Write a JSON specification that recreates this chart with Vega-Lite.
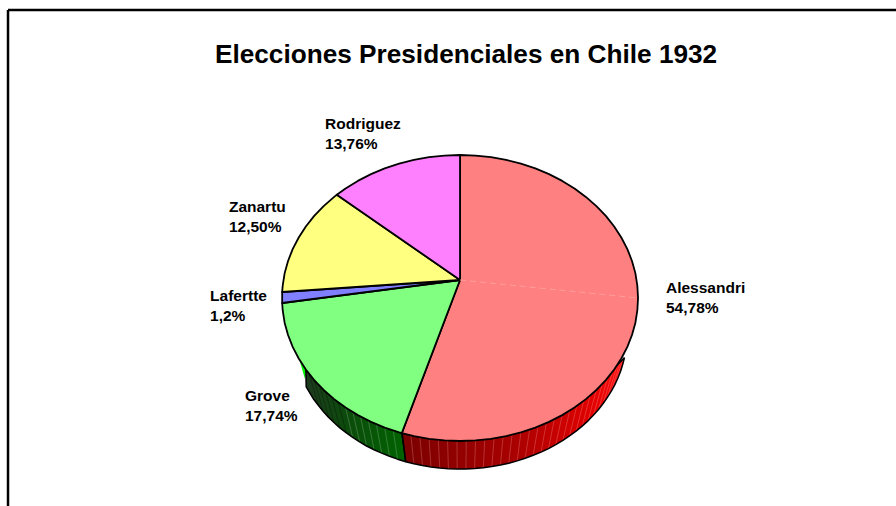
{
  "$schema": "https://vega.github.io/schema/vega-lite/v6.json",
  "description": "Elecciones Presidenciales en Chile 1932: torta en perspectiva con canto visible",
  "width": 896,
  "height": 506,
  "autosize": {"type": "none"},
  "padding": 0,
  "background": "#ffffff",
  "config": {"view": {"stroke": null}},
  "datasets": {
    "porciones": [
      {"candidato":"Alessandri","orden":0,"x":0,"y":0.126},{"candidato":"Alessandri","orden":1,"x":0,"y":1},{"candidato":"Alessandri","orden":2,"x":0.087,"y":0.996},{"candidato":"Alessandri","orden":3,"x":0.174,"y":0.985},{"candidato":"Alessandri","orden":4,"x":0.259,"y":0.966},{"candidato":"Alessandri","orden":5,"x":0.342,"y":0.94},{"candidato":"Alessandri","orden":6,"x":0.423,"y":0.906},{"candidato":"Alessandri","orden":7,"x":0.5,"y":0.866},{"candidato":"Alessandri","orden":8,"x":0.574,"y":0.819},{"candidato":"Alessandri","orden":9,"x":0.643,"y":0.766},{"candidato":"Alessandri","orden":10,"x":0.707,"y":0.707},{"candidato":"Alessandri","orden":11,"x":0.766,"y":0.643},{"candidato":"Alessandri","orden":12,"x":0.819,"y":0.574},{"candidato":"Alessandri","orden":13,"x":0.866,"y":0.5},{"candidato":"Alessandri","orden":14,"x":0.906,"y":0.423},{"candidato":"Alessandri","orden":15,"x":0.94,"y":0.342},{"candidato":"Alessandri","orden":16,"x":0.966,"y":0.259},{"candidato":"Alessandri","orden":17,"x":0.985,"y":0.174},{"candidato":"Alessandri","orden":18,"x":0.996,"y":0.087},{"candidato":"Alessandri","orden":19,"x":1,"y":0},{"candidato":"Alessandri","orden":20,"x":0.996,"y":-0.087},{"candidato":"Alessandri","orden":21,"x":0.985,"y":-0.174},{"candidato":"Alessandri","orden":22,"x":0.966,"y":-0.259},{"candidato":"Alessandri","orden":23,"x":0.94,"y":-0.342},{"candidato":"Alessandri","orden":24,"x":0.906,"y":-0.423},{"candidato":"Alessandri","orden":25,"x":0.866,"y":-0.5},{"candidato":"Alessandri","orden":26,"x":0.819,"y":-0.574},{"candidato":"Alessandri","orden":27,"x":0.766,"y":-0.643},{"candidato":"Alessandri","orden":28,"x":0.707,"y":-0.707},{"candidato":"Alessandri","orden":29,"x":0.643,"y":-0.766},{"candidato":"Alessandri","orden":30,"x":0.574,"y":-0.819},{"candidato":"Alessandri","orden":31,"x":0.5,"y":-0.866},{"candidato":"Alessandri","orden":32,"x":0.423,"y":-0.906},{"candidato":"Alessandri","orden":33,"x":0.342,"y":-0.94},{"candidato":"Alessandri","orden":34,"x":0.259,"y":-0.966},{"candidato":"Alessandri","orden":35,"x":0.174,"y":-0.985},{"candidato":"Alessandri","orden":36,"x":0.087,"y":-0.996},{"candidato":"Alessandri","orden":37,"x":0,"y":-1},{"candidato":"Alessandri","orden":38,"x":-0.087,"y":-0.996},{"candidato":"Alessandri","orden":39,"x":-0.174,"y":-0.985},{"candidato":"Alessandri","orden":40,"x":-0.259,"y":-0.966},{"candidato":"Alessandri","orden":41,"x":-0.327,"y":-0.945},{"candidato":"Alessandri","orden":42,"x":0,"y":0.126},
      {"candidato":"Grove","orden":0,"x":0,"y":0.126},{"candidato":"Grove","orden":1,"x":-0.327,"y":-0.945},{"candidato":"Grove","orden":2,"x":-0.342,"y":-0.94},{"candidato":"Grove","orden":3,"x":-0.423,"y":-0.906},{"candidato":"Grove","orden":4,"x":-0.5,"y":-0.866},{"candidato":"Grove","orden":5,"x":-0.574,"y":-0.819},{"candidato":"Grove","orden":6,"x":-0.643,"y":-0.766},{"candidato":"Grove","orden":7,"x":-0.707,"y":-0.707},{"candidato":"Grove","orden":8,"x":-0.766,"y":-0.643},{"candidato":"Grove","orden":9,"x":-0.819,"y":-0.574},{"candidato":"Grove","orden":10,"x":-0.866,"y":-0.5},{"candidato":"Grove","orden":11,"x":-0.906,"y":-0.423},{"candidato":"Grove","orden":12,"x":-0.94,"y":-0.342},{"candidato":"Grove","orden":13,"x":-0.966,"y":-0.259},{"candidato":"Grove","orden":14,"x":-0.985,"y":-0.174},{"candidato":"Grove","orden":15,"x":-0.996,"y":-0.087},{"candidato":"Grove","orden":16,"x":-0.999,"y":-0.035},{"candidato":"Grove","orden":17,"x":0,"y":0.126},
      {"candidato":"Lafertte","orden":0,"x":0,"y":0.126},{"candidato":"Lafertte","orden":1,"x":-0.999,"y":-0.035},{"candidato":"Lafertte","orden":2,"x":-0.999,"y":0.042},{"candidato":"Lafertte","orden":3,"x":0,"y":0.126},
      {"candidato":"Zanartu","orden":0,"x":0,"y":0.126},{"candidato":"Zanartu","orden":1,"x":-0.999,"y":0.042},{"candidato":"Zanartu","orden":2,"x":-0.996,"y":0.087},{"candidato":"Zanartu","orden":3,"x":-0.985,"y":0.174},{"candidato":"Zanartu","orden":4,"x":-0.966,"y":0.259},{"candidato":"Zanartu","orden":5,"x":-0.94,"y":0.342},{"candidato":"Zanartu","orden":6,"x":-0.906,"y":0.423},{"candidato":"Zanartu","orden":7,"x":-0.866,"y":0.5},{"candidato":"Zanartu","orden":8,"x":-0.819,"y":0.574},{"candidato":"Zanartu","orden":9,"x":-0.766,"y":0.643},{"candidato":"Zanartu","orden":10,"x":-0.707,"y":0.707},{"candidato":"Zanartu","orden":11,"x":-0.692,"y":0.722},{"candidato":"Zanartu","orden":12,"x":0,"y":0.126},
      {"candidato":"Rodriguez","orden":0,"x":0,"y":0.126},{"candidato":"Rodriguez","orden":1,"x":-0.692,"y":0.722},{"candidato":"Rodriguez","orden":2,"x":-0.643,"y":0.766},{"candidato":"Rodriguez","orden":3,"x":-0.574,"y":0.819},{"candidato":"Rodriguez","orden":4,"x":-0.5,"y":0.866},{"candidato":"Rodriguez","orden":5,"x":-0.423,"y":0.906},{"candidato":"Rodriguez","orden":6,"x":-0.342,"y":0.94},{"candidato":"Rodriguez","orden":7,"x":-0.259,"y":0.966},{"candidato":"Rodriguez","orden":8,"x":-0.174,"y":0.985},{"candidato":"Rodriguez","orden":9,"x":-0.087,"y":0.996},{"candidato":"Rodriguez","orden":10,"x":0,"y":1},{"candidato":"Rodriguez","orden":11,"x":0,"y":0.126}
    ],
    "canto": [
      {"pared":"roja","orden":0,"x":0.924,"y":-0.416},{"pared":"roja","orden":1,"x":0.914,"y":-0.464},{"pared":"roja","orden":2,"x":0.902,"y":-0.512},{"pared":"roja","orden":3,"x":0.887,"y":-0.559},{"pared":"roja","orden":4,"x":0.87,"y":-0.606},{"pared":"roja","orden":5,"x":0.85,"y":-0.651},{"pared":"roja","orden":6,"x":0.828,"y":-0.695},{"pared":"roja","orden":7,"x":0.804,"y":-0.738},{"pared":"roja","orden":8,"x":0.778,"y":-0.78},{"pared":"roja","orden":9,"x":0.749,"y":-0.82},{"pared":"roja","orden":10,"x":0.719,"y":-0.859},{"pared":"roja","orden":11,"x":0.686,"y":-0.896},{"pared":"roja","orden":12,"x":0.652,"y":-0.931},{"pared":"roja","orden":13,"x":0.615,"y":-0.964},{"pared":"roja","orden":14,"x":0.578,"y":-0.996},{"pared":"roja","orden":15,"x":0.538,"y":-1.025},{"pared":"roja","orden":16,"x":0.497,"y":-1.053},{"pared":"roja","orden":17,"x":0.455,"y":-1.078},{"pared":"roja","orden":18,"x":0.411,"y":-1.1},{"pared":"roja","orden":19,"x":0.366,"y":-1.121},{"pared":"roja","orden":20,"x":0.321,"y":-1.139},{"pared":"roja","orden":21,"x":0.274,"y":-1.155},{"pared":"roja","orden":22,"x":0.227,"y":-1.168},{"pared":"roja","orden":23,"x":0.179,"y":-1.179},{"pared":"roja","orden":24,"x":0.131,"y":-1.187},{"pared":"roja","orden":25,"x":0.082,"y":-1.192},{"pared":"roja","orden":26,"x":0.033,"y":-1.195},{"pared":"roja","orden":27,"x":-0.016,"y":-1.196},{"pared":"roja","orden":28,"x":-0.065,"y":-1.194},{"pared":"roja","orden":29,"x":-0.114,"y":-1.189},{"pared":"roja","orden":30,"x":-0.163,"y":-1.182},{"pared":"roja","orden":31,"x":-0.211,"y":-1.172},{"pared":"roja","orden":32,"x":-0.259,"y":-1.159},{"pared":"roja","orden":33,"x":-0.305,"y":-1.145},{"pared":"roja","orden":34,"x":-0.326,"y":-0.946},{"pared":"roja","orden":35,"x":0.139,"y":-0.99},{"pared":"roja","orden":36,"x":0.574,"y":-0.819},{"pared":"roja","orden":37,"x":0.883,"y":-0.47},{"pared":"roja","orden":38,"x":0.924,"y":-0.416},
      {"pared":"verde","orden":0,"x":-0.305,"y":-1.145},{"pared":"verde","orden":1,"x":-0.351,"y":-1.127},{"pared":"verde","orden":2,"x":-0.396,"y":-1.107},{"pared":"verde","orden":3,"x":-0.44,"y":-1.085},{"pared":"verde","orden":4,"x":-0.483,"y":-1.061},{"pared":"verde","orden":5,"x":-0.525,"y":-1.035},{"pared":"verde","orden":6,"x":-0.564,"y":-1.006},{"pared":"verde","orden":7,"x":-0.603,"y":-0.975},{"pared":"verde","orden":8,"x":-0.64,"y":-0.942},{"pared":"verde","orden":9,"x":-0.675,"y":-0.908},{"pared":"verde","orden":10,"x":-0.708,"y":-0.871},{"pared":"verde","orden":11,"x":-0.739,"y":-0.833},{"pared":"verde","orden":12,"x":-0.768,"y":-0.794},{"pared":"verde","orden":13,"x":-0.795,"y":-0.752},{"pared":"verde","orden":14,"x":-0.821,"y":-0.71},{"pared":"verde","orden":15,"x":-0.843,"y":-0.665},{"pared":"verde","orden":16,"x":-0.864,"y":-0.621},{"pared":"verde","orden":17,"x":-0.866,"y":-0.5},{"pared":"verde","orden":18,"x":-0.682,"y":-0.731},{"pared":"verde","orden":19,"x":-0.326,"y":-0.946},{"pared":"verde","orden":20,"x":-0.305,"y":-1.145}
    ],
    "astilla": [
      {"orden":0,"x":-0.91,"y":-0.399},{"orden":1,"x":-0.871,"y":-0.566},{"orden":2,"x":-0.865,"y":-0.503},{"orden":3,"x":-0.91,"y":-0.399}
    ],
    "facetas": [
      {"tono":"rojo","x":0.927,"y":-0.375,"x2":0.87,"y2":-0.606},{"tono":"rojo","x":0.906,"y":-0.423,"x2":0.85,"y2":-0.651},{"tono":"rojo","x":0.883,"y":-0.47,"x2":0.828,"y2":-0.695},{"tono":"rojo","x":0.857,"y":-0.515,"x2":0.804,"y2":-0.738},{"tono":"rojo","x":0.829,"y":-0.559,"x2":0.778,"y2":-0.78},{"tono":"rojo","x":0.799,"y":-0.602,"x2":0.749,"y2":-0.82},{"tono":"rojo","x":0.766,"y":-0.643,"x2":0.719,"y2":-0.859},{"tono":"rojo","x":0.731,"y":-0.682,"x2":0.686,"y2":-0.896},{"tono":"rojo","x":0.695,"y":-0.719,"x2":0.652,"y2":-0.931},{"tono":"rojo","x":0.656,"y":-0.755,"x2":0.615,"y2":-0.964},{"tono":"rojo","x":0.616,"y":-0.788,"x2":0.578,"y2":-0.996},{"tono":"rojo","x":0.574,"y":-0.819,"x2":0.538,"y2":-1.025},{"tono":"rojo","x":0.53,"y":-0.848,"x2":0.497,"y2":-1.053},{"tono":"rojo","x":0.485,"y":-0.875,"x2":0.455,"y2":-1.078},{"tono":"rojo","x":0.438,"y":-0.899,"x2":0.411,"y2":-1.1},{"tono":"rojo","x":0.391,"y":-0.921,"x2":0.366,"y2":-1.121},{"tono":"rojo","x":0.342,"y":-0.94,"x2":0.321,"y2":-1.139},{"tono":"rojo","x":0.292,"y":-0.956,"x2":0.274,"y2":-1.155},{"tono":"rojo","x":0.242,"y":-0.97,"x2":0.227,"y2":-1.168},{"tono":"rojo","x":0.191,"y":-0.982,"x2":0.179,"y2":-1.179},{"tono":"rojo","x":0.139,"y":-0.99,"x2":0.131,"y2":-1.187},{"tono":"rojo","x":0.087,"y":-0.996,"x2":0.082,"y2":-1.192},{"tono":"rojo","x":0.035,"y":-0.999,"x2":0.033,"y2":-1.195},{"tono":"rojo","x":-0.017,"y":-1,"x2":-0.016,"y2":-1.196},{"tono":"rojo","x":-0.07,"y":-0.998,"x2":-0.065,"y2":-1.194},{"tono":"rojo","x":-0.122,"y":-0.993,"x2":-0.114,"y2":-1.189},{"tono":"rojo","x":-0.174,"y":-0.985,"x2":-0.163,"y2":-1.182},{"tono":"rojo","x":-0.225,"y":-0.974,"x2":-0.211,"y2":-1.172},{"tono":"rojo","x":-0.276,"y":-0.961,"x2":-0.259,"y2":-1.159},
      {"tono":"verde","x":-0.375,"y":-0.927,"x2":-0.351,"y2":-1.127},{"tono":"verde","x":-0.423,"y":-0.906,"x2":-0.396,"y2":-1.107},{"tono":"verde","x":-0.47,"y":-0.883,"x2":-0.44,"y2":-1.085},{"tono":"verde","x":-0.515,"y":-0.857,"x2":-0.483,"y2":-1.061},{"tono":"verde","x":-0.559,"y":-0.829,"x2":-0.525,"y2":-1.035},{"tono":"verde","x":-0.602,"y":-0.799,"x2":-0.564,"y2":-1.006},{"tono":"verde","x":-0.643,"y":-0.766,"x2":-0.603,"y2":-0.975},
      {"tono":"sombra","x":-0.682,"y":-0.731,"x2":-0.64,"y2":-0.942},{"tono":"sombra","x":-0.719,"y":-0.695,"x2":-0.675,"y2":-0.908},{"tono":"sombra","x":-0.755,"y":-0.656,"x2":-0.708,"y2":-0.871},{"tono":"sombra","x":-0.788,"y":-0.616,"x2":-0.739,"y2":-0.833},{"tono":"sombra","x":-0.819,"y":-0.574,"x2":-0.768,"y2":-0.794},{"tono":"sombra","x":-0.848,"y":-0.53,"x2":-0.795,"y2":-0.752}
    ],
    "marco": [
      {"x":-2.539,"y":2.014,"x2":2.449,"y2":2.014},
      {"x":-2.539,"y":2.014,"x2":-2.539,"y2":-1.4545}
    ],
    "brillo": [
      {"orden":0,"x":0,"y":0.126},{"orden":1,"x":1,"y":0}
    ],
    "votos": [
      {"candidato":"Alessandri","porcentaje":54.78,"etiqueta":"Alessandri\n54,78%","x":1.157,"y":0.035},
      {"candidato":"Grove","porcentaje":17.74,"etiqueta":"Grove\n17,74%","x":-1.208,"y":-0.72},
      {"candidato":"Lafertte","porcentaje":1.2,"etiqueta":"Lafertte\n1,2%","x":-1.404,"y":-0.021},
      {"candidato":"Zanartu","porcentaje":12.5,"etiqueta":"Zanartu\n12,50%","x":-1.298,"y":0.601},
      {"candidato":"Rodriguez","porcentaje":13.76,"etiqueta":"Rodriguez\n13,76%","x":-0.758,"y":1.182}
    ],
    "encabezado": [
      {"texto":"Elecciones Presidenciales en Chile 1932","x":0.034,"y":1.643}
    ]
  },
  "encoding": {
    "x": {"field":"x","type":"quantitative","axis":null,"scale":{"domain":[-2.584,2.449],"nice":false,"zero":false}},
    "y": {"field":"y","type":"quantitative","axis":null,"scale":{"domain":[-1.4545,2.084],"nice":false,"zero":false}}
  },
  "layer": [
    {
      "data": {"name":"canto"},
      "transform": [{"filter":"datum.pared === 'roja'"}],
      "mark": {"type":"line","stroke":null,"fill":{"gradient":"linear","x1":0,"y1":0,"x2":1,"y2":0,"stops":[{"offset":0,"color":"#7a0000"},{"offset":0.5,"color":"#a80000"},{"offset":0.85,"color":"#e00000"},{"offset":1,"color":"#ff1010"}]}},
      "encoding": {"order":{"field":"orden","type":"quantitative"}}
    },
    {
      "data": {"name":"canto"},
      "transform": [{"filter":"datum.pared === 'verde'"}],
      "mark": {"type":"line","stroke":null,"fill":{"gradient":"linear","x1":0,"y1":0,"x2":1,"y2":0,"stops":[{"offset":0,"color":"#1e3a1e"},{"offset":0.4,"color":"#0c4a0c"},{"offset":1,"color":"#006400"}]}},
      "encoding": {"order":{"field":"orden","type":"quantitative"}}
    },
    {
      "data": {"name":"astilla"},
      "mark": {"type":"line","stroke":null,"fill":"#00f000"},
      "encoding": {"order":{"field":"orden","type":"quantitative"}}
    },
    {
      "data": {"name":"facetas"},
      "mark": {"type":"rule","strokeWidth":0.7,"opacity":0.4},
      "encoding": {
        "x2": {"field":"x2"},
        "y2": {"field":"y2"},
        "color": {"field":"tono","type":"nominal","legend":null,"scale":{"domain":["rojo","verde","sombra"],"range":["#ffb0b0","#b8d0b8","#000000"]}}
      }
    },
    {
      "data": {"name":"canto"},
      "mark": {"type":"line","stroke":"#000000","strokeWidth":1.5,"strokeJoin":"round"},
      "encoding": {
        "detail": {"field":"pared"},
        "order": {"field":"orden","type":"quantitative"}
      }
    },
    {
      "data": {"name":"porciones"},
      "mark": {"type":"line","stroke":"#000000","strokeWidth":1.8,"strokeJoin":"round"},
      "encoding": {
        "fill": {"field":"candidato","type":"nominal","legend":null,"scale":{"domain":["Alessandri","Grove","Lafertte","Zanartu","Rodriguez"],"range":["#ff8080","#80ff80","#8080ff","#ffff80","#ff80ff"]}},
        "order": {"field":"orden","type":"quantitative"}
      }
    },
    {
      "data": {"name":"brillo"},
      "mark": {"type":"line","stroke":"#ff9c9c","strokeWidth":1,"strokeDash":[6,4]},
      "encoding": {"order":{"field":"orden","type":"quantitative"}}
    },
    {
      "data": {"name":"marco"},
      "mark": {"type":"rule","stroke":"#000000","strokeWidth":2.5},
      "encoding": {"x2":{"field":"x2"},"y2":{"field":"y2"}}
    },
    {
      "data": {"name":"votos"},
      "mark": {"type":"text","align":"left","baseline":"alphabetic","font":"Liberation Sans","fontWeight":"bold","fontSize":15.5,"lineBreak":"\n","lineHeight":20,"fill":"#000000"},
      "encoding": {"text":{"field":"etiqueta"}}
    },
    {
      "data": {"name":"encabezado"},
      "mark": {"type":"text","align":"center","baseline":"alphabetic","font":"Liberation Sans","fontWeight":"bold","fontSize":26.2,"fill":"#000000"},
      "encoding": {"text":{"field":"texto"}}
    }
  ]
}
